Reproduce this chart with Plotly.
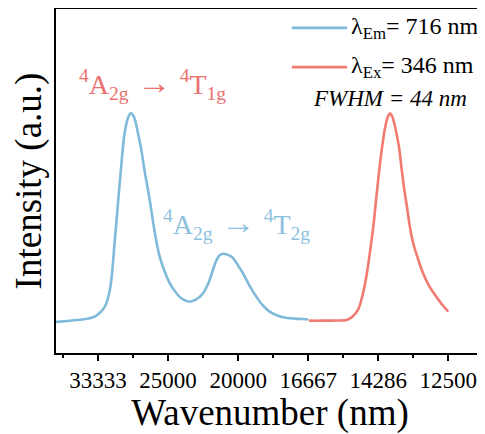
import plotly.graph_objects as go

# Blue: excitation spectrum (monitored at 716 nm)
ex_wl = [240, 260, 280, 295, 303, 310, 317, 324, 331, 338, 343, 347, 351, 357, 362, 367, 372, 376, 381, 388,
         398, 405, 412, 420, 431, 440, 450, 458, 464, 469, 474, 479, 483, 488, 493, 500, 507, 516, 526, 535,
         545, 555, 564, 580, 598, 600]
ex_int = [0.0, 0.006, 0.013, 0.025, 0.045, 0.075, 0.155, 0.393, 0.666, 0.906, 0.98, 1.0, 0.985, 0.906, 0.82, 0.714,
          0.62, 0.537, 0.43, 0.313, 0.217, 0.17, 0.1375, 0.11, 0.097, 0.108, 0.1375, 0.19, 0.249, 0.295, 0.321,
          0.327, 0.324, 0.318, 0.305, 0.27, 0.233, 0.175, 0.121, 0.08, 0.049, 0.032, 0.0225, 0.016, 0.013, 0.012]

# Red: emission spectrum (excited at 346 nm)
em_wl = [601, 620, 640, 655, 663, 671, 677, 683, 688, 693, 698, 702, 706, 710, 714, 717, 720, 723, 726, 730,
         733, 737, 741, 745, 750, 757, 764, 773, 783, 792, 800]
em_int = [0.006, 0.006, 0.007, 0.0096, 0.025, 0.0575, 0.12, 0.217, 0.33, 0.457, 0.62, 0.744, 0.85, 0.935, 0.985,
          1.0, 0.985, 0.95, 0.906, 0.83, 0.744, 0.64, 0.552, 0.46, 0.377, 0.3, 0.233, 0.17, 0.121, 0.08, 0.049]

tick_vals = [300, 400, 500, 600, 700, 800]
tick_text = ["33333", "25000", "20000", "16667", "14286", "12500"]

BLUE = "#80BADA"
RED = "#F27B71"
FONT = "Liberation Serif, Times New Roman, serif"
ARROW = '<span style="font-size:34px"> → </span>'

fig = go.Figure()
fig.add_trace(go.Scatter(x=ex_wl, y=ex_int, mode="lines", line=dict(color=BLUE, width=2.6, shape="spline"),
                         showlegend=False))
fig.add_trace(go.Scatter(x=em_wl, y=em_int, mode="lines", line=dict(color=RED, width=2.6, shape="spline"),
                         showlegend=False))

# page body has an 8px margin, so the figure is drawn 8px smaller and offset
fig.update_layout(
    width=477, height=426,
    margin=dict(l=48, r=1, t=1, b=81, autoexpand=False),
    paper_bgcolor="white", plot_bgcolor="white",
    font=dict(family=FONT, color="black"),
    xaxis=dict(range=[240, 851], tickvals=tick_vals, ticktext=tick_text, automargin=False,
               ticks="outside", ticklen=6, tickwidth=1.5, tickcolor="black",
               minor=dict(ticks="outside", ticklen=3, tickwidth=1.5, tickcolor="black",
                          tickvals=[250, 350, 450, 550, 650, 750, 850]),
               showline=True, linecolor="black", linewidth=1.5, mirror=True,
               showgrid=False, zeroline=False,
               tickfont=dict(size=23, family=FONT),
               title=dict(text="Wavenumber (nm)", font=dict(size=37, family=FONT), standoff=0)),
    yaxis=dict(range=[-0.149, 1.50], showticklabels=False, ticks="", automargin=False,
               showline=True, linecolor="black", linewidth=1.5, mirror=True,
               showgrid=False, zeroline=False,
               title=dict(text="Intensity (a.u.)", font=dict(size=37, family=FONT), standoff=8)),
)

# Manual legend
fig.add_shape(type="line", xref="paper", yref="paper", x0=0.551, x1=0.680, y0=0.945, y1=0.945,
              line=dict(color=BLUE, width=2.6))
fig.add_shape(type="line", xref="paper", yref="paper", x0=0.551, x1=0.680, y0=0.831, y1=0.831,
              line=dict(color=RED, width=2.6))
fig.add_annotation(xref="paper", yref="paper", x=0.684, y=0.945, xanchor="left", yanchor="middle",
                   text="λ<sub>Em</sub>= 716 nm", showarrow=False, font=dict(size=24, family=FONT))
fig.add_annotation(xref="paper", yref="paper", x=0.684, y=0.831, xanchor="left", yanchor="middle",
                   text="λ<sub>Ex</sub>= 346 nm", showarrow=False, font=dict(size=24, family=FONT))
fig.add_annotation(xref="paper", yref="paper", x=0.78, y=0.741, xanchor="center", yanchor="middle",
                   text="<i>FWHM = 44 nm</i>", showarrow=False, font=dict(size=23, family=FONT))

# Transition labels
fig.add_annotation(x=378, y=1.14, text="<sup>4</sup>A<sub>2g</sub>" + ARROW + "<sup>4</sup>T<sub>1g</sub>",
                   showarrow=False, font=dict(size=28, family=FONT, color="#EA716F"))
fig.add_annotation(x=498, y=0.47, text="<sup>4</sup>A<sub>2g</sub>" + ARROW + "<sup>4</sup>T<sub>2g</sub>",
                   showarrow=False, font=dict(size=28, family=FONT, color="#8DC1DE"))

fig.write_html("out.html")
